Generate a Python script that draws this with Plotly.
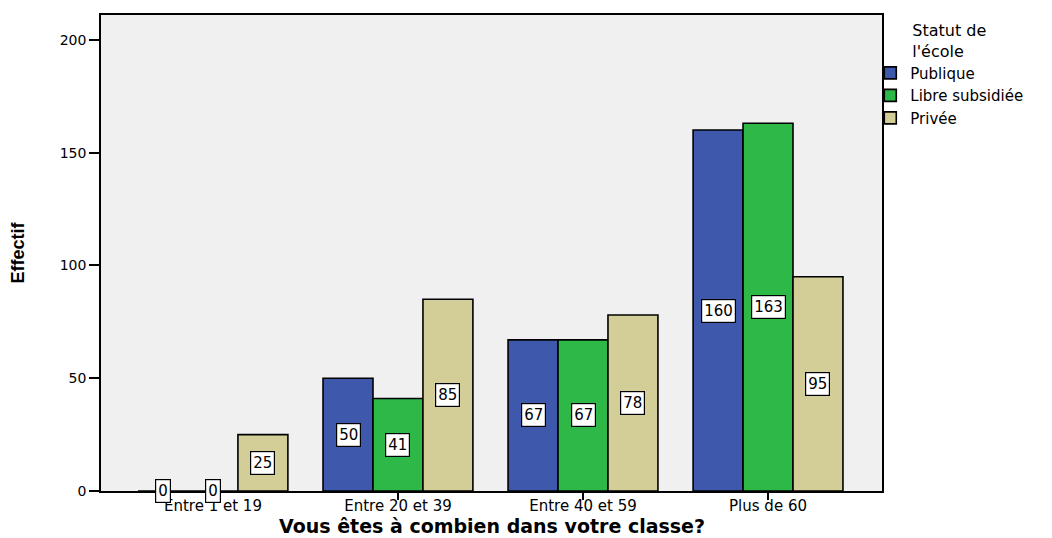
import plotly.graph_objects as go

categories = ["Entre 1 et 19", "Entre 20 et 39", "Entre 40 et 59", "Plus de 60"]
series_names = ["Publique", "Libre subsidiée", "Privée"]
publique = [0, 50, 67, 160]
libre = [0, 41, 67, 163]
privee = [25, 85, 78, 95]
colors = ["#3E58AC", "#2EB848", "#D3CE97"]
y_ticks = [0, 50, 100, 150, 200]
x_title = "Vous êtes à combien dans votre classe?"

series = [publique, libre, privee]
bargap = 0.19
bw = (1 - bargap) / 3
FONT = "DejaVu Sans, Liberation Sans, Arial"

fig = go.Figure()
for name, vals, col in zip(series_names, series, colors):
    fig.add_trace(go.Bar(
        name=name, x=list(range(len(categories))), y=vals,
        marker=dict(color=col, line=dict(color="black", width=1.6)),
    ))

annotations = []
for si, vals in enumerate(series):
    off = (si - 1) * bw
    for ci, v in enumerate(vals):
        annotations.append(dict(
            x=ci + off, y=v / 2, xref="x", yref="y", text=str(v), showarrow=False,
            bgcolor="white", bordercolor="black", borderwidth=1.2, borderpad=2,
            font=dict(family=FONT, size=15, color="black"),
        ))

# x-axis title placed as paper annotation so it stays inside the canvas
annotations.append(dict(
    x=0.5, y=0, xref="paper", yref="paper", xanchor="center", yanchor="bottom",
    yshift=-48, text="<b>" + x_title + "</b>", showarrow=False,
    font=dict(family=FONT, size=19, color="black"),
))

fig.update_layout(
    width=1052, height=538,
    margin=dict(l=93, r=178, t=7, b=55, autoexpand=False),
    paper_bgcolor="white", plot_bgcolor="#F0F0F0",
    barmode="group", bargap=bargap, bargroupgap=0,
    font=dict(family=FONT, size=14, color="black"),
    annotations=annotations,
    showlegend=True,
    legend=dict(
        x=0.985, xanchor="left", y=1.0, yanchor="top",
        title=dict(text="Statut de<br>l'école", side="top center", font=dict(size=16)),
        font=dict(size=15), tracegroupgap=0, itemwidth=30,
        bgcolor="rgba(0,0,0,0)",
    ),
    xaxis=dict(
        tickmode="array", tickvals=list(range(len(categories))), ticktext=categories,
        range=[-0.605, 3.616], showline=True, linecolor="black", linewidth=1.5,
        mirror=True, ticks="outside", ticklen=7, tickcolor="black", tickwidth=1.5,
        showgrid=False, zeroline=False, tickfont=dict(size=15), automargin=False,
        ticklabelstandoff=-7,
    ),
    yaxis=dict(
        range=[0, 211], tickvals=y_ticks, showline=True, linecolor="black",
        linewidth=1.5, mirror=True, ticks="outside", ticklen=10, tickcolor="black", tickwidth=1.5,
        showgrid=False, zeroline=False, tickfont=dict(size=14), automargin=False,
        title=dict(text="<b>Effectif</b>", font=dict(family="Liberation Sans, Arial", size=18), standoff=32),
    ),
)

fig.write_html("out.html")
